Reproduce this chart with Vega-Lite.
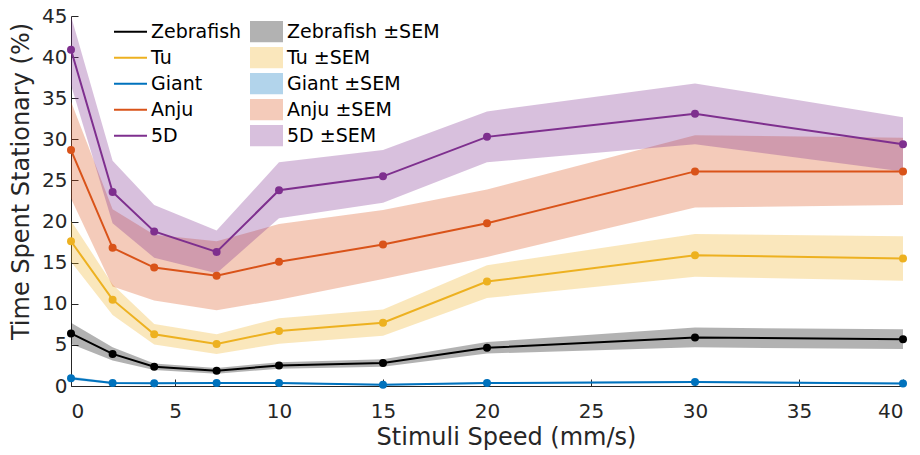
{
  "$schema": "https://vega.github.io/schema/vega-lite/v6.json",
  "width": 832,
  "height": 370,
  "autosize": "none",
  "padding": {"left": 71, "top": 16, "right": 17, "bottom": 69},
  "background": "white",
  "config": {
    "font": "DejaVu Sans",
    "view": {"stroke": null},
    "axis": {
      "grid": false,
      "domainColor": "#262626",
      "tickColor": "#262626",
      "labelColor": "#262626",
      "titleColor": "#262626",
      "labelFontSize": 20,
      "titleFontSize": 24,
      "titleFontWeight": "normal",
      "tickSize": -7,
      "domainWidth": 1,
      "tickWidth": 1
    },
    "legend": {
      "labelFontSize": 19,
      "labelColor": "#000000",
      "orient": "none"
    }
  },
  "data": {
    "values": [
      {"speed": 0, "strain": "Zebrafish", "band": "Zebrafish ±SEM", "mean": 6.4, "lo": 5.1, "hi": 7.7},
      {"speed": 2, "strain": "Zebrafish", "band": "Zebrafish ±SEM", "mean": 3.9, "lo": 3.1, "hi": 4.7},
      {"speed": 4, "strain": "Zebrafish", "band": "Zebrafish ±SEM", "mean": 2.35, "lo": 1.95, "hi": 2.75},
      {"speed": 7, "strain": "Zebrafish", "band": "Zebrafish ±SEM", "mean": 1.85, "lo": 1.5, "hi": 2.2},
      {"speed": 10, "strain": "Zebrafish", "band": "Zebrafish ±SEM", "mean": 2.5, "lo": 2.1, "hi": 2.9},
      {"speed": 15, "strain": "Zebrafish", "band": "Zebrafish ±SEM", "mean": 2.8, "lo": 2.35, "hi": 3.25},
      {"speed": 20, "strain": "Zebrafish", "band": "Zebrafish ±SEM", "mean": 4.65, "lo": 3.95, "hi": 5.35},
      {"speed": 30, "strain": "Zebrafish", "band": "Zebrafish ±SEM", "mean": 5.9, "lo": 4.7, "hi": 7.1},
      {"speed": 40, "strain": "Zebrafish", "band": "Zebrafish ±SEM", "mean": 5.7, "lo": 4.5, "hi": 6.9},
      {"speed": 0, "strain": "Tu", "band": "Tu ±SEM", "mean": 17.6, "lo": 15.1, "hi": 20.1},
      {"speed": 2, "strain": "Tu", "band": "Tu ±SEM", "mean": 10.5, "lo": 8.65, "hi": 12.35},
      {"speed": 4, "strain": "Tu", "band": "Tu ±SEM", "mean": 6.3, "lo": 5.05, "hi": 7.55},
      {"speed": 7, "strain": "Tu", "band": "Tu ±SEM", "mean": 5.1, "lo": 3.9, "hi": 6.3},
      {"speed": 10, "strain": "Tu", "band": "Tu ±SEM", "mean": 6.7, "lo": 5.15, "hi": 8.25},
      {"speed": 15, "strain": "Tu", "band": "Tu ±SEM", "mean": 7.7, "lo": 6.1, "hi": 9.3},
      {"speed": 20, "strain": "Tu", "band": "Tu ±SEM", "mean": 12.7, "lo": 10.7, "hi": 14.7},
      {"speed": 30, "strain": "Tu", "band": "Tu ±SEM", "mean": 15.9, "lo": 13.3, "hi": 18.5},
      {"speed": 40, "strain": "Tu", "band": "Tu ±SEM", "mean": 15.5, "lo": 12.8, "hi": 18.2},
      {"speed": 0, "strain": "Giant", "band": "Giant ±SEM", "mean": 0.95, "lo": 0.75, "hi": 1.15},
      {"speed": 2, "strain": "Giant", "band": "Giant ±SEM", "mean": 0.37, "lo": 0.25, "hi": 0.49},
      {"speed": 4, "strain": "Giant", "band": "Giant ±SEM", "mean": 0.33, "lo": 0.23, "hi": 0.43},
      {"speed": 7, "strain": "Giant", "band": "Giant ±SEM", "mean": 0.35, "lo": 0.25, "hi": 0.45},
      {"speed": 10, "strain": "Giant", "band": "Giant ±SEM", "mean": 0.35, "lo": 0.25, "hi": 0.45},
      {"speed": 15, "strain": "Giant", "band": "Giant ±SEM", "mean": 0.15, "lo": 0.07, "hi": 0.23},
      {"speed": 20, "strain": "Giant", "band": "Giant ±SEM", "mean": 0.35, "lo": 0.25, "hi": 0.45},
      {"speed": 30, "strain": "Giant", "band": "Giant ±SEM", "mean": 0.5, "lo": 0.38, "hi": 0.62},
      {"speed": 40, "strain": "Giant", "band": "Giant ±SEM", "mean": 0.3, "lo": 0.2, "hi": 0.4},
      {"speed": 0, "strain": "Anju", "band": "Anju ±SEM", "mean": 28.7, "lo": 22.8, "hi": 34.6},
      {"speed": 2, "strain": "Anju", "band": "Anju ±SEM", "mean": 16.8, "lo": 12.1, "hi": 21.5},
      {"speed": 4, "strain": "Anju", "band": "Anju ±SEM", "mean": 14.4, "lo": 10.4, "hi": 18.4},
      {"speed": 7, "strain": "Anju", "band": "Anju ±SEM", "mean": 13.4, "lo": 9.2, "hi": 17.6},
      {"speed": 10, "strain": "Anju", "band": "Anju ±SEM", "mean": 15.1, "lo": 10.5, "hi": 19.7},
      {"speed": 15, "strain": "Anju", "band": "Anju ±SEM", "mean": 17.2, "lo": 13.0, "hi": 21.4},
      {"speed": 20, "strain": "Anju", "band": "Anju ±SEM", "mean": 19.8, "lo": 15.7, "hi": 23.9},
      {"speed": 30, "strain": "Anju", "band": "Anju ±SEM", "mean": 26.1, "lo": 21.7, "hi": 30.5},
      {"speed": 40, "strain": "Anju", "band": "Anju ±SEM", "mean": 26.1, "lo": 22.0, "hi": 30.2},
      {"speed": 0, "strain": "5D", "band": "5D ±SEM", "mean": 40.9, "lo": 36.6, "hi": 45.0},
      {"speed": 2, "strain": "5D", "band": "5D ±SEM", "mean": 23.6, "lo": 19.8, "hi": 27.4},
      {"speed": 4, "strain": "5D", "band": "5D ±SEM", "mean": 18.8, "lo": 15.6, "hi": 22.0},
      {"speed": 7, "strain": "5D", "band": "5D ±SEM", "mean": 16.3, "lo": 13.7, "hi": 18.9},
      {"speed": 10, "strain": "5D", "band": "5D ±SEM", "mean": 23.8, "lo": 20.4, "hi": 27.2},
      {"speed": 15, "strain": "5D", "band": "5D ±SEM", "mean": 25.5, "lo": 22.3, "hi": 28.7},
      {"speed": 20, "strain": "5D", "band": "5D ±SEM", "mean": 30.3, "lo": 27.2, "hi": 33.4},
      {"speed": 30, "strain": "5D", "band": "5D ±SEM", "mean": 33.1, "lo": 29.4, "hi": 36.8},
      {"speed": 40, "strain": "5D", "band": "5D ±SEM", "mean": 29.4, "lo": 26.1, "hi": 32.7}
    ]
  },
  "encoding": {
    "x": {
      "field": "speed",
      "type": "quantitative",
      "scale": {"domain": [0, 40], "nice": false},
      "axis": {"values": [0, 5, 10, 15, 20, 25, 30, 35, 40], "title": "Stimuli Speed (mm/s)", "labelPadding": 22, "titlePadding": 4, "titleX": 435, "titleAlign": "center"}
    }
  },
  "layer": [
    {
      "mark": {"type": "area", "opacity": 0.3, "strokeWidth": 0},
      "encoding": {
        "y": {
          "field": "lo",
          "type": "quantitative",
          "scale": {"domain": [0, 45], "nice": false},
          "axis": {"values": [0, 5, 10, 15, 20, 25, 30, 35, 40, 45], "title": "Time Spent Stationary (%)", "labelPadding": 11, "titlePadding": 8, "titleY": 165, "titleAlign": "center"}
        },
        "y2": {"field": "hi"},
        "fill": {
          "field": "band",
          "type": "nominal",
          "scale": {
            "domain": ["Zebrafish ±SEM", "Tu ±SEM", "Giant ±SEM", "Anju ±SEM", "5D ±SEM"],
            "range": ["#000000", "#EDB120", "#0072BD", "#D95319", "#7E2F8E"]
          },
          "legend": {
            "title": null,
            "legendX": 179,
            "legendY": 3,
            "symbolType": "M-1,-0.64H1V0.64H-1Z",
            "symbolSize": 1089,
            "symbolOpacity": 0.3,
            "symbolStrokeWidth": 0,
            "clipHeight": 25.3,
            "rowPadding": 0,
            "labelOffset": 4
          }
        }
      }
    },
    {
      "mark": {"type": "line", "strokeWidth": 2},
      "encoding": {
        "y": {"field": "mean", "type": "quantitative"},
        "color": {
          "field": "strain",
          "type": "nominal",
          "scale": {
            "domain": ["Zebrafish", "Tu", "Giant", "Anju", "5D"],
            "range": ["#000000", "#EDB120", "#0072BD", "#D95319", "#7E2F8E"]
          },
          "legend": {
            "title": null,
            "legendX": 42,
            "legendY": 3,
            "symbolType": "stroke",
            "symbolSize": 1089,
            "symbolStrokeWidth": 2,
            "clipHeight": 25.3,
            "rowPadding": 0,
            "labelOffset": 3
          }
        }
      }
    },
    {
      "mark": {"type": "point", "filled": true, "opacity": 1, "size": 64, "shape": "circle"},
      "encoding": {
        "y": {"field": "mean", "type": "quantitative"},
        "color": {"field": "strain", "type": "nominal"}
      }
    }
  ]
}
